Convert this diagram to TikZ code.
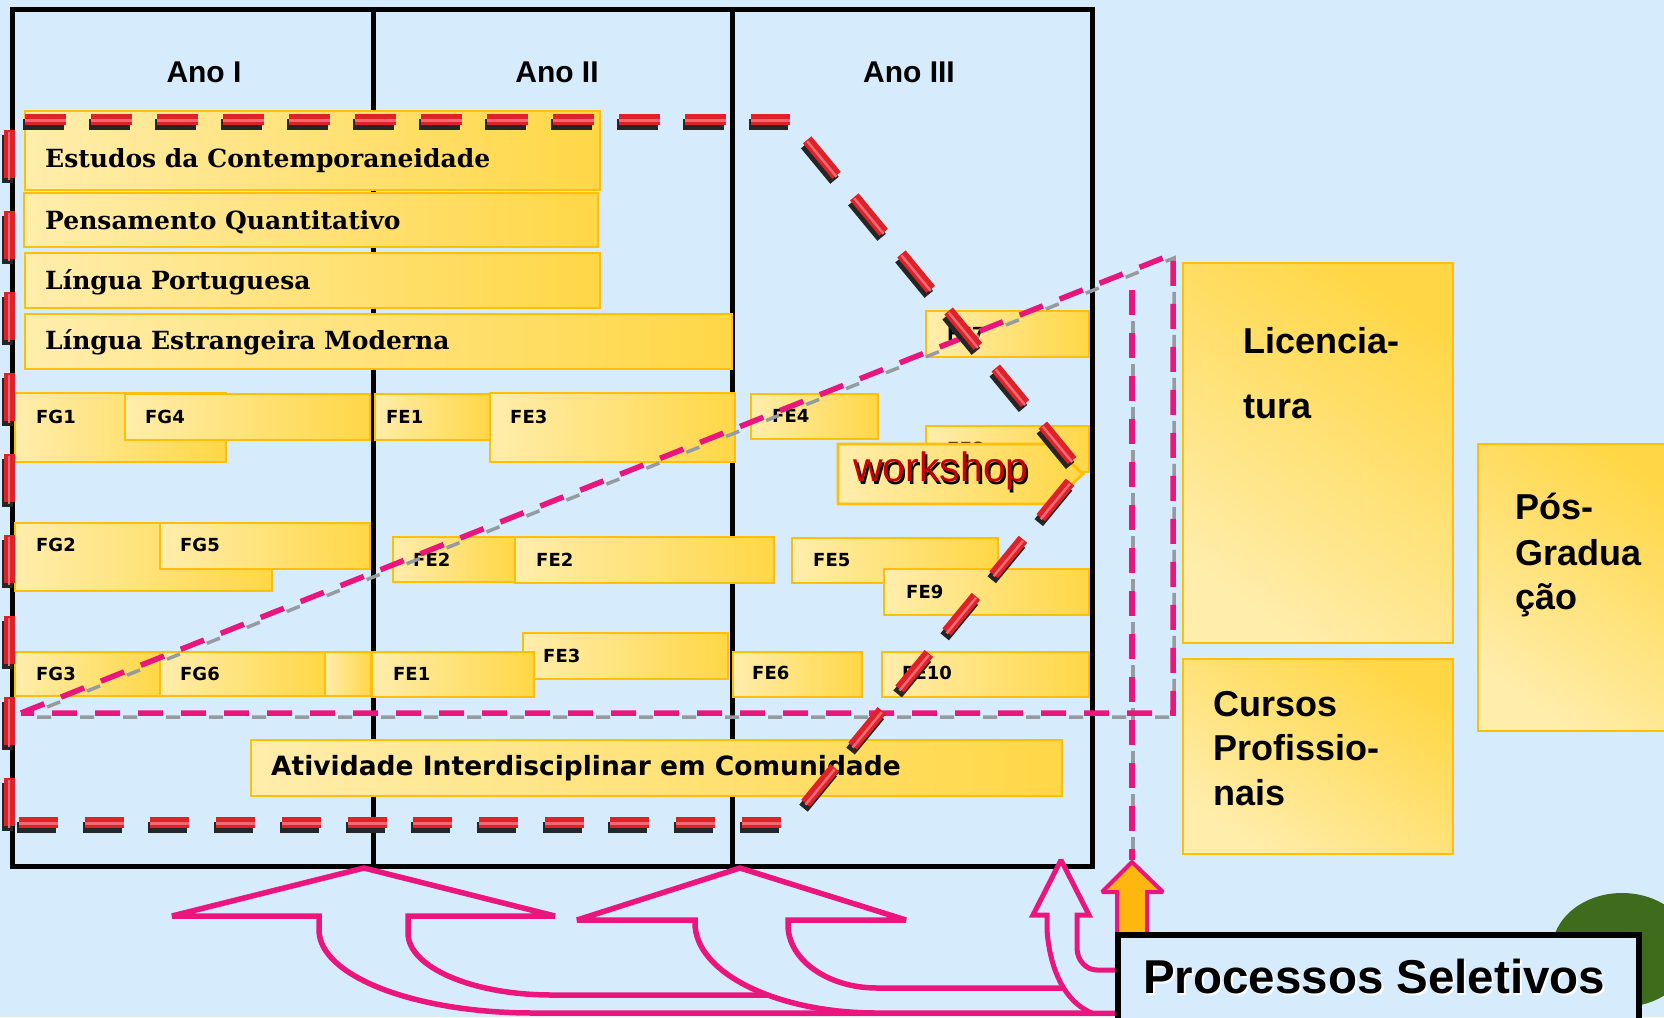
\documentclass[tikz,border=0pt]{standalone}
\usepackage{fontspec}
\setmainfont{Liberation Sans}
\newfontfamily\dvserif{DejaVu Serif}
\newfontfamily\dvsans{DejaVu Sans}
\definecolor{bg}{RGB}{214,236,253}
\definecolor{ylight}{RGB}{255,237,172}
\definecolor{ygold}{RGB}{255,215,70}
\definecolor{yborder}{RGB}{255,190,10}
\definecolor{redd}{RGB}{221,34,41}
\definecolor{redhi}{RGB}{242,105,115}
\definecolor{mag}{RGB}{234,22,126}
\definecolor{dgray}{RGB}{150,155,160}
\definecolor{orangef}{RGB}{255,183,15}
\definecolor{greenc}{RGB}{62,108,28}
\definecolor{wred}{RGB}{200,0,0}
\begin{document}
\begin{tikzpicture}[x=1pt,y=-1pt,
  ybox/.style={draw=yborder, line width=2.8pt, left color=ylight, right color=ygold},
  ybig/.style={draw=yborder, line width=2.8pt, top color=ygold, bottom color=ylight, shading angle=-35},
  frameline/.style={line width=5pt, black},
  crs/.style={font=\dvserif\bfseries\fontsize{25}{30}\selectfont, anchor=base west, inner sep=0pt},
  lbl/.style={font=\dvsans\bfseries\fontsize{18}{20}\selectfont, anchor=base west, inner sep=0pt},
  aic/.style={font=\dvsans\bfseries\fontsize{26.5}{30}\selectfont, anchor=base west, inner sep=0pt},
  bigtxt/.style={font=\bfseries\fontsize{36}{40}\selectfont, anchor=base west, inner sep=0pt},
  yr/.style={font=\bfseries\fontsize{30}{34}\selectfont, anchor=base, inner sep=0pt},
  redsh/.style={line width=11pt, black!85, transform canvas={shift={(-2,5)}}},
  redln/.style={line width=11pt, redd},
  redhl/.style={line width=2.5pt, redhi, transform canvas={shift={(0,1.5)}}},
  magln/.style={line width=5.5pt, mag, dash pattern=on 25pt off 18pt},
  magsh/.style={line width=3.5pt, dgray, dash pattern=on 14pt off 29pt, dash phase=16pt, transform canvas={shift={(1,4)}}},
  arrowout/.style={line width=5.5pt, mag, fill=bg, line join=miter, miter limit=2},
]
\useasboundingbox (0,0) rectangle (1664,1017);
\fill[bg] (0,0) rectangle (1664,1017);

% frame
\coordinate (fTL) at (12,9);
\coordinate (fBR) at (1092,866);
\coordinate (d1t) at (373,9); \coordinate (d1b) at (373,866);
\coordinate (d2t) at (732,9); \coordinate (d2b) at (732,866);
\draw[frameline] (fTL) rectangle (fBR);
\draw[frameline] (d1t) -- (d1b);
\draw[frameline] (d2t) -- (d2b);

\node[yr] (ano1) at (204,82) {Ano I};
\node[yr] (ano2) at (557,82) {Ano II};
\node[yr] (ano3) at (909,82) {Ano III};

% course bars
\path[ybox] (25,111) rectangle (600,190);
\node[crs] (tec) at (45,167) {Estudos da Contemporaneidade};
\path[ybox] (24,193) rectangle (598,247);
\node[crs] (tpq) at (45,229) {Pensamento Quantitativo};
\path[ybox] (25,253) rectangle (600,308);
\node[crs] (tlp) at (45,289) {Língua Portuguesa};
\path[ybox] (25,314) rectangle (732,369);
\node[crs] (tlem) at (45,349) {Língua Estrangeira Moderna};

% FG / FE boxes
\path[ybox] (15,393) rectangle (226,462);  \node[lbl] (fg1) at (36,423) {FG1};
\path[ybox] (125,394) rectangle (370,440); \node[lbl] (fg4) at (145,423) {FG4};
\path[ybox] (375,394) rectangle (490,440); \node[lbl] (fe1a) at (386,423) {FE1};
\path[ybox] (490,393) rectangle (735,462); \node[lbl] (fe3a) at (510,423) {FE3};
\path[ybox] (751,394) rectangle (878,439); \node[lbl] (fe4) at (772,422) {FE4};
\path[ybox] (926,311) rectangle (1089,357); \node[lbl] (fe7) at (947,340) {FE7};
\path[ybox] (926,426) rectangle (1089,472); \node[lbl] (fe8) at (947,455) {FE8};

\path[ybox] (15,523) rectangle (272,591);  \node[lbl] (fg2) at (36,551) {FG2};
\path[ybox] (160,523) rectangle (370,569); \node[lbl] (fg5) at (180,551) {FG5};
\path[ybox] (393,537) rectangle (515,582); \node[lbl] (fe2a) at (413,566) {FE2};
\path[ybox] (515,537) rectangle (774,583); \node[lbl] (fe2b) at (536,566) {FE2};
\path[ybox] (792,538) rectangle (998,583); \node[lbl] (fe5) at (813,566) {FE5};
\path[ybox] (884,569) rectangle (1089,615); \node[lbl] (fe9) at (906,598) {FE9};

\path[ybox] (15,652) rectangle (160,696);  \node[lbl] (fg3) at (36,680) {FG3};
\path[ybox] (160,652) rectangle (325,696); \node[lbl] (fg6) at (180,680) {FG6};
\path[ybox] (325,652) rectangle (371,696);
\path[ybox] (523,633) rectangle (728,679); \node[lbl] (fe3b) at (543,662) {FE3};
\path[ybox] (372,652) rectangle (534,697); \node[lbl] (fe1b) at (393,680) {FE1};
\path[ybox] (733,652) rectangle (862,697); \node[lbl] (fe6) at (752,679) {FE6};
\path[ybox] (882,652) rectangle (1089,697); \node[lbl] (fe10) at (902,679) {FE10};

% workshop arrow
\path[ybox] (838,444) -- (1050,444) -- (1083,474) -- (1050,504) -- (838,504) -- cycle;
\node[font=\fontsize{41}{44}\selectfont, anchor=base west, inner sep=0pt, text=black] (wsh) at (855,484) {workshop};
\node[font=\fontsize{41}{44}\selectfont, anchor=base west, inner sep=0pt, text=wred] (ws) at (853,481) {workshop};

% Atividade
\path[ybox] (251,740) rectangle (1062,796);
\node[aic] (taic) at (271,775) {Atividade Interdisciplinar em Comunidade};

% right boxes
\path[ybig] (1183,263) rectangle (1453,643);
\node[bigtxt] (lic1) at (1243,353) {Licencia-};
\node[bigtxt] (lic2) at (1243,418) {tura};
\path[ybig] (1183,659) rectangle (1453,854);
\node[bigtxt] (cp1) at (1213,716) {Cursos};
\node[bigtxt] (cp2) at (1213,760) {Profissio-};
\node[bigtxt] (cp3) at (1213,805) {nais};
\path[ybig] (1478,444) rectangle (1690,731);
\node[bigtxt] (pg1) at (1515,519) {Pós-};
\node[bigtxt] (pg2) at (1515,565) {Gradua};
\node[bigtxt] (pg3) at (1515,609) {ção};

% magenta dashed triangle and vertical
\coordinate (pA) at (21,713);
\coordinate (pB) at (1173,254);
\coordinate (pC) at (1173,713);
\coordinate (pV1) at (1132,290);
\coordinate (pV2) at (1132,860);
\draw[magsh] (pA) -- (pB) -- (pC) -- cycle;
\draw[magsh] (pV1) -- (pV2);
\draw[magln] (pA) -- (pB) -- (pC) -- cycle;
\draw[magln] (pV1) -- (pV2);

% red dashed chevron
\coordinate (rA) at (25,119);
\coordinate (rB) at (790,119);
\coordinate (rT) at (1080,470);
\coordinate (rC) at (790,822);
\coordinate (rD) at (19,822);
\coordinate (rL1) at (9,130);
\coordinate (rL2) at (9,826);
\foreach \st in {redsh,redln,redhl}{
  \draw[\st, dash pattern=on 41pt off 25pt] (rA) -- (rB);
  \draw[\st, dash pattern=on 46pt off 28pt, dash phase=47pt] (rB) -- (rT) -- (rC);
  \draw[\st, dash pattern=on 39pt off 26.7pt] (rD) -- (rC);
  \draw[\st, dash pattern=on 48pt off 33pt] (rL1) -- (rL2);
}

% bottom curved arrows
\draw[arrowout] (364,868) -- (555,916) -- (408,916) -- (408,933)
  arc[start angle=180, end angle=90, x radius=144, y radius=62] -- (1125,995) -- (1125,1013) -- (533,1013)
  arc[start angle=90, end angle=180, x radius=214, y radius=83] -- (319,916) -- (172,916) -- cycle;
\draw[arrowout] (740,868) -- (906,920) -- (788,920) -- (788,925)
  arc[start angle=180, end angle=90, x radius=89, y radius=63] -- (1125,988) -- (1125,1013) -- (877,1013)
  arc[start angle=90, end angle=180, x radius=182, y radius=90] -- (695,920) -- (577,920) -- cycle;
\draw[arrowout, line width=5pt] (1061,860) -- (1089,915) -- (1077,915) -- (1077,948)
  arc[start angle=180, end angle=90, x radius=20, y radius=22] -- (1125,970) -- (1125,1013) -- (1092,1013)
  .. controls (1060,1000) and (1049,960) .. (1047,930) -- (1047,915) -- (1033,915) -- cycle;
% orange arrow
\draw[line width=4pt, mag, fill=orangef, line join=miter, miter limit=2] (1132,862) -- (1163,892) -- (1147,892) -- (1147,934) -- (1117,934) -- (1117,892) -- (1102,892) -- cycle;

% green ellipse and Processos box
\fill[greenc] (1622,950) ellipse[x radius=70, y radius=57];
\draw[line width=6pt, black, fill=bg] (1118,935) rectangle (1639,1030);
\node[font=\bfseries\fontsize{47.5}{50}\selectfont, anchor=base west, inner sep=0pt, text=white] (pssh) at (1145,995) {Processos Seletivos};
\node[font=\bfseries\fontsize{47.5}{50}\selectfont, anchor=base west, inner sep=0pt, text=black] (ps) at (1143,993) {Processos Seletivos};
\end{tikzpicture}
\end{document}
